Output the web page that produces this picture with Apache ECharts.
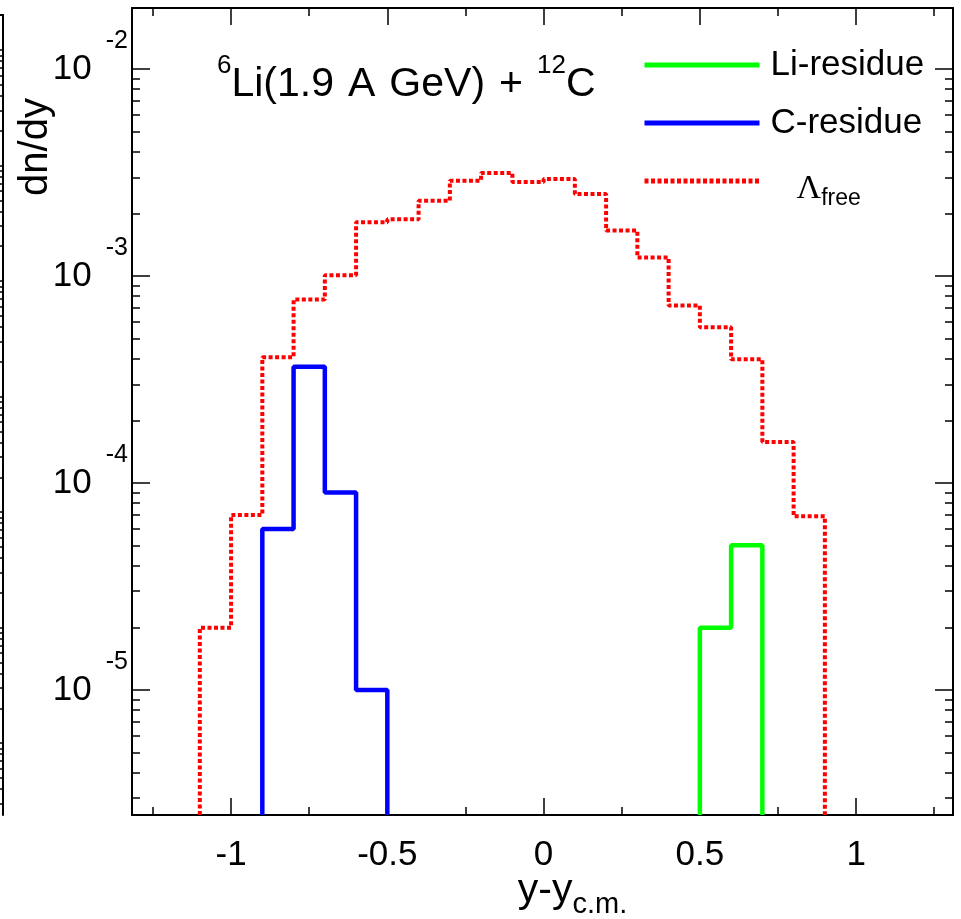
<!DOCTYPE html>
<html><head><meta charset="utf-8">
<script src="https://cdn.jsdelivr.net/npm/echarts@6/dist/echarts.min.js"></script>
<style>html,body{margin:0;padding:0;background:#fff}#c{width:961px;height:919px}</style>
</head><body><div id="c"></div>
<script>
// ---- data ----
const lambdaEdges = [-1.1,-1.0,-0.9,-0.8,-0.7,-0.6,-0.5,-0.4,-0.3,-0.2,-0.1,0.0,0.1,0.2,0.3,0.4,0.5,0.6,0.7,0.8,0.9];
const lambdaFree  = [2.0e-5,7.0e-5,4.05e-4,7.7e-4,1.01e-3,1.82e-3,1.88e-3,2.31e-3,2.89e-3,3.15e-3,2.85e-3,2.94e-3,2.49e-3,1.66e-3,1.23e-3,7.2e-4,5.65e-4,3.96e-4,1.58e-4,6.9e-5];
const cResidueEdges = [-0.9,-0.8,-0.7,-0.6,-0.5];
const cResidue      = [6.0e-5,3.65e-4,9.0e-5,1.0e-5];
const liResidueEdges = [0.5,0.6,0.7];
const liResidue      = [2.0e-5,5.0e-5];

const xMajorTicks = [-1,-0.5,0,0.5,1];
const xMinorTicks = [-1.25,-0.75,-0.25,0.25,0.75,1.25];
const yDecades = [1e-5,1e-4,1e-3,1e-2];
const yMantissas = [2,3,4,5,6,7,8,9];

const X_MIN = -1.317, X_MAX = 1.31;
const Y_MIN = Math.pow(10,-5.604), Y_MAX = Math.pow(10,-1.705);

// neighbour panel edge (cropped at the left of the picture)
const nbDecades = [1e-7,1e-6,1e-5,1e-4,1e-3,1e-2,1e-1];
const NB_MIN = Math.pow(10,-7.623), NB_MAX = Math.pow(10,-0.697);

const FONT = "'Liberation Sans', Arial, Helvetica, sans-serif";
const SERIF = "'Liberation Serif', 'Times New Roman', serif";

function minorOf(decs, lo, hi){
  const out=[];
  decs.forEach(d=>{ yMantissas.forEach(m=>{ const v=m*d; if(v>lo && v<hi) out.push(v); }); });
  return out;
}
const yMinorTicks = minorOf([1e-6].concat(yDecades), Y_MIN, Y_MAX);
const nbMinorTicks = minorOf([1e-8].concat(nbDecades), NB_MIN, NB_MAX);

function hist(edges, vals){
  const pts=[[edges[0], Y_MIN]];
  for(let i=0;i<vals.length;i++){ pts.push([edges[i], vals[i]]); pts.push([edges[i+1], vals[i]]); }
  pts.push([edges[edges.length-1], Y_MIN]);
  return pts;
}

const chart = echarts.init(document.getElementById('c'), null, {renderer:'canvas'});
const black = '#000';
function xAx(pos, ticks, len, opts){
  return Object.assign({
    type:'value', gridIndex:0, position:pos, min:X_MIN, max:X_MAX,
    axisLine:{show:false, onZero:false},
    axisTick:{show:true, inside:true, length:len, customValues:ticks, lineStyle:{color:black, width:1.5}},
    axisLabel:{show:false}, splitLine:{show:false}
  }, opts||{});
}
function yAx(pos, ticks, len, opts){
  return Object.assign({
    type:'log', logBase:10, gridIndex:0, position:pos, min:Y_MIN, max:Y_MAX,
    axisLine:{show:false, onZero:false},
    axisTick:{show:true, inside:true, length:len, customValues:ticks, lineStyle:{color:black, width:1.5}},
    axisLabel:{show:false}, splitLine:{show:false}
  }, opts||{});
}

const option = {
  backgroundColor:'#fff',
  animation:false,
  textStyle:{fontFamily:FONT},
  title:{
    text:'{s|6}{m|Li(1.9}{w|}{m|A}{w|}{m|GeV)}{w|}{m|+}{w|}{s|12}{m|C}',
    left:217, top:53, padding:0,
    textStyle:{fontWeight:'normal', rich:{
      s:{fontFamily:FONT, fontWeight:'normal', fontSize:26, color:black, verticalAlign:'top', lineHeight:26},
      m:{fontFamily:FONT, fontWeight:'normal', fontSize:41, color:black, lineHeight:64},
      w:{width:14}
    }}
  },
  legend:{
    orient:'vertical', left:642, top:45, padding:0,
    itemWidth:115, itemHeight:14, itemGap:18,
    itemStyle:{opacity:0},
    lineStyle:{width:5},
    data:['Li-residue','C-residue','Λfree'],
    formatter: function(n){ return n==='Λfree' ? '{sp2|}{L|Λ}{f|free}' : '{sp|}{t|'+n+'}'; },
    textStyle:{color:black, fontFamily:FONT, fontSize:35, lineHeight:40, rich:{
      sp:{width:6}, sp2:{width:32},
      t:{fontFamily:FONT, fontSize:35, lineHeight:40, color:black},
      L:{fontFamily:SERIF, fontSize:34, color:black, verticalAlign:'top', padding:[11,0,0,0], lineHeight:40},
      f:{fontFamily:FONT, fontSize:23, color:black, verticalAlign:'top', padding:[26,0,0,0], lineHeight:40}
    }}
  },
  grid:[
    {left:132, right:8, top:8, bottom:104, outerBoundsMode:'none', containLabel:false},
    {left:-300, right:958, top:15, bottom:104, outerBoundsMode:'none', containLabel:false}
  ],
  xAxis:[
    xAx('bottom', xMajorTicks, 17, {
      axisLine:{show:true, onZero:false, lineStyle:{color:black, width:2}},
      axisLabel:{show:true, customValues:xMajorTicks, margin:23, color:black, fontFamily:FONT, fontSize:35,
        formatter: v => String(v)},
      name:'{a|y-y}{s|c.m.}', nameLocation:'middle', nameGap:55, nameMoveOverlap:false,
      nameTextStyle:{padding:[0,0,0,60], rich:{
        a:{fontFamily:FONT, fontSize:41, color:black, verticalAlign:'top', lineHeight:40},
        s:{fontFamily:FONT, fontSize:29, color:black, verticalAlign:'top', padding:[20,0,0,0]}
      }}
    }),
    xAx('bottom', xMinorTicks, 8),
    xAx('top', xMajorTicks, 17, {axisLine:{show:true, onZero:false, lineStyle:{color:black, width:2}}}),
    xAx('top', xMinorTicks, 8),
    {type:'value', gridIndex:1, position:'top', min:0, max:1,
     axisLine:{show:true, onZero:false, lineStyle:{color:black, width:2}}, axisTick:{show:false}, axisLabel:{show:false}, splitLine:{show:false}}
  ],
  yAxis:[
    yAx('left', yDecades, 18, {
      axisLine:{show:true, onZero:false, lineStyle:{color:black, width:2}},
      axisLabel:{show:true, customValues:yDecades, margin:4, color:black,
        formatter: v => '{b|10}{e|' + Math.round(Math.log10(v)) + '}',
        rich:{
          b:{fontFamily:FONT, fontSize:35, color:black, lineHeight:80},
          e:{fontFamily:FONT, fontSize:25, color:black, lineHeight:24, verticalAlign:'top', padding:[0,0,0,14]}
        }}
    }),
    yAx('left', yMinorTicks, 8),
    yAx('right', yDecades, 18, {axisLine:{show:true, onZero:false, lineStyle:{color:black, width:2}}}),
    yAx('right', yMinorTicks, 8),
    {type:'log', logBase:10, gridIndex:1, position:'right', min:NB_MIN, max:NB_MAX,
     axisLine:{show:true, onZero:false, lineStyle:{color:black, width:2}},
     axisTick:{show:true, inside:true, length:10, customValues:nbDecades.concat(nbMinorTicks), lineStyle:{color:black, width:1.5}},
     axisLabel:{show:false}, splitLine:{show:false}}
  ],
  graphic:[
    {type:'text', x:36, y:147, rotation:Math.PI/2,
     style:{text:'dn/dy', fontFamily:FONT, fontSize:40, fill:black, align:'center', verticalAlign:'middle'}}
  ],
  series:[
    {name:'Li-residue', type:'line', xAxisIndex:0, yAxisIndex:0, symbol:'none', data:hist(liResidueEdges, liResidue),
     lineStyle:{color:'#00ff00', width:4.5}, itemStyle:{color:'#00ff00'}, z:3},
    {name:'C-residue', type:'line', xAxisIndex:0, yAxisIndex:0, symbol:'none', data:hist(cResidueEdges, cResidue),
     lineStyle:{color:'#0000ff', width:4.5}, itemStyle:{color:'#0000ff'}, z:3},
    {name:'Λfree', type:'line', xAxisIndex:0, yAxisIndex:0, symbol:'none', data:hist(lambdaEdges, lambdaFree),
     lineStyle:{color:'#ff0000', width:4, type:[4,2.5]}, itemStyle:{color:'#ff0000'}, z:2}
  ]
};
chart.setOption(option);
</script>
</body></html>
